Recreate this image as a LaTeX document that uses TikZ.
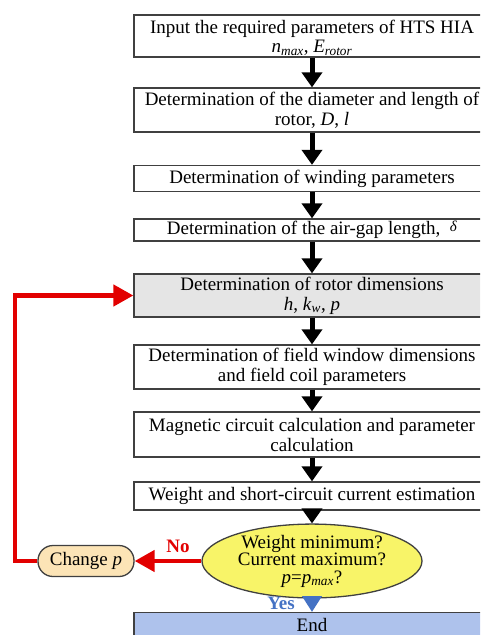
\documentclass[tikz,border=0pt]{standalone}
\usepackage{fontspec}
\setmainfont{Liberation Serif}
\usetikzlibrary{arrows.meta,shapes.geometric}
\definecolor{boxgray}{RGB}{64,64,64}
\definecolor{boxfill}{RGB}{229,229,229}
\definecolor{decfill}{RGB}{248,244,104}
\definecolor{endfill}{RGB}{174,194,236}
\definecolor{chgfill}{RGB}{252,228,182}
\definecolor{myred}{RGB}{226,0,0}
\definecolor{myblue}{RGB}{68,114,196}
\newcommand{\ital}[1]{\textit{#1}}
\newcommand{\isub}[1]{\textsubscript{\textit{#1}}}
\begin{document}
\begin{tikzpicture}[x=1pt,y=-1pt,
  font=\fontsize{19}{20}\selectfont,
  box/.style={draw=boxgray, line width=1.3pt, fill=white, minimum width=356pt, inner sep=0pt, align=center},
  arr/.style={-{Triangle[width=20pt,length=15pt]}, line width=5pt, black},
  arrred/.style={-{Triangle[width=21pt,length=20pt]}, line width=4.5pt, myred},
  arrblue/.style={-{Triangle[width=19pt,length=16pt]}, line width=5pt, myblue},
  lbl/.style={font=\fontsize{19}{20}\selectfont\bfseries, inner sep=0pt}]
\useasboundingbox (0,0) rectangle (480,635);
\clip (0,0) rectangle (480,635);
\node[box, minimum height=42pt] (b1) at (312,36) {};
\node[inner sep=0pt, align=center, font=\fontsize{19}{18.5}\selectfont] (b1t) at (312,38) {Input the required parameters of HTS HIA\\\ital{n}\isub{max}, \ital{E}\isub{rotor}};
\node[box, minimum height=44pt] (b2) at (312,110) {Determination of the diameter and length of\\rotor, \ital{D}, \ital{l}};
\node[box, minimum height=26pt] (b3) at (312,178.5) {Determination of winding parameters};
\node[box, minimum height=22pt] (b4) at (312,230) {Determination of the air-gap length,\ \ \raisebox{3pt}{\fontsize{15}{15}\selectfont\ital{δ}}};
\node[box, fill=boxfill, minimum height=43pt] (b5) at (312,295.5) {Determination of rotor dimensions\\\ital{h}, \ital{k}\isub{w}, \ital{p}};
\node[box, minimum height=44pt] (b6) at (312,367) {Determination of field window dimensions\\and field coil parameters};
\node[box, minimum height=45pt] (b7) at (312,434.5) {Magnetic circuit calculation and parameter\\calculation};
\node[box, minimum height=28pt] (b8) at (312,496) {Weight and short-circuit current estimation};
\node[ellipse, draw=boxgray, line width=1.3pt, fill=decfill, minimum width=220pt, minimum height=56pt, inner sep=0pt, align=center, font=\fontsize{19}{17.5}\selectfont] (dec) at (312,561) {Weight minimum?\\Current maximum?\\\ital{p}=\ital{p}\isub{max}?};
\node[box, fill=endfill, minimum height=24pt, anchor=north] (end) at (312,612) {End};
\node[draw=boxgray, line width=1.3pt, fill=chgfill, rounded corners=15pt, minimum width=96pt, minimum height=31pt, inner sep=0pt] (chg) at (86,561) {Change \ital{p}};
\coordinate (loop) at (15,0);
\draw[arr] (b1) -- (b2);
\draw[arr] (b2) -- (b3);
\draw[arr] (b3) -- (b4);
\draw[arr] (b4) -- (b5);
\draw[arr] (b5) -- (b6);
\draw[arr] (b6) -- (b7);
\draw[arr] (b7) -- (b8);
\draw[arr] (b8) -- (dec);
\draw[arrblue] (dec) -- (end);
\draw[arrred] (dec) -- (chg);
\draw[arrred] (chg.west) -| (loop |- b5.west) -- (b5.west);
\node[lbl, text=myred] (no) at (178,546) {No};
\node[lbl, text=myblue] (yes) at (281,603) {Yes};
\end{tikzpicture}
\end{document}
